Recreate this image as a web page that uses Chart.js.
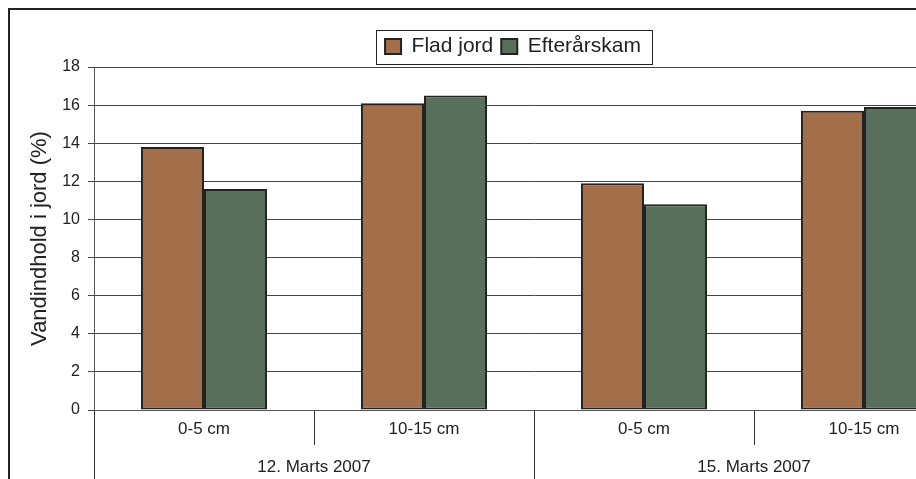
<!DOCTYPE html>
<html>
<head>
<meta charset="utf-8">
<script src="https://cdn.jsdelivr.net/npm/chart.js@4/dist/chart.umd.min.js"></script>
<style>
	html, body { margin: 0; padding: 0; background: #fff; width: 916px; height: 479px; overflow: hidden; }
	.frame { position: absolute; left: 8px; top: 8px; width: 1006px; height: 520px; border: 2px solid #222; background: #fff; }
	#chart { display: block; }
</style>
</head>
<body>
<div class="frame">
	<canvas id="chart" width="1006" height="520"></canvas>
</div>
<script>
// data
var categories = ['0-5 cm', '10-15 cm', '0-5 cm', '10-15 cm'];
var dates = ['12. Marts 2007', '15. Marts 2007'];
var fladJord = [13.8, 16.1, 11.9, 15.7];
var efterarskam = [11.6, 16.5, 10.8, 15.9];
var yMin = 0, yMax = 18, yStep = 2;

Chart.defaults.font.family = '"Liberation Sans", Arial, sans-serif';
Chart.defaults.color = '#222';

// box round the legend, like the old spreadsheet look
var legendFrame = {
	id: 'legendFrame',
	afterDraw: function(chart) {
		var boxes = chart.legend && chart.legend.legendHitBoxes;
		if (!boxes || !boxes.length) return;
		var l = Math.min.apply(null, boxes.map(function(b) { return b.left; }));
		var r = Math.max.apply(null, boxes.map(function(b) { return b.left + b.width; }));
		var t = Math.min.apply(null, boxes.map(function(b) { return b.top; }));
		var bt = Math.max.apply(null, boxes.map(function(b) { return b.top + b.height; }));
		var ctx = chart.ctx;
		ctx.save();
		ctx.strokeStyle = '#222';
		ctx.lineWidth = 1;
		ctx.strokeRect(Math.round(l - 9) + 0.5, Math.round(t - 6) + 0.5, Math.round(r - l + 20), Math.round(bt - t + 13));
		ctx.restore();
	}
};

var ctx = document.getElementById('chart');
var chart = new Chart(ctx, {
	type: 'bar',
	data: {
		labels: categories,
		datasets: [{
			label: 'Flad jord',
			data: fladJord,
			backgroundColor: '#a36e4a',
			borderColor: '#222',
			borderWidth: 2,
			borderSkipped: false
		}, {
			label: 'Efterårskam',
			data: efterarskam,
			backgroundColor: '#58705b',
			borderColor: '#222',
			borderWidth: 2,
			borderSkipped: false
		}]
	},
	options: {
		responsive: false,
		animation: false,
		categoryPercentage: 0.573,
		barPercentage: 1.0,
		layout: { padding: { top: 18, left: 0, right: 0, bottom: 49 } },
		plugins: {
			legend: {
				display: true,
				position: 'top',
				labels: {
					boxWidth: 16,
					boxHeight: 15,
					padding: 8,
					font: { size: 21 },
					color: '#222'
				}
			},
			tooltip: { enabled: false }
		},
		scales: {
			y: {
				min: yMin,
				max: yMax,
				ticks: { stepSize: yStep, font: { size: 16 }, padding: 8, color: '#222' },
				grid: { color: '#444', lineWidth: 1, tickLength: 6 },
				border: { color: '#555', width: 1 },
				title: { display: true, text: 'Vandindhold i jord (%)', font: { size: 22 }, color: '#222', padding: { top: 17, bottom: 0 } },
				afterFit: function(s) { s.width = 84; }
			},
			yr: {
				position: 'right',
				display: true,
				grid: { display: false },
				ticks: { display: false },
				border: { display: false },
				afterFit: function(s) { s.width = 42; }
			},
			x: {
				offset: true,
				grid: { offset: true, drawOnChartArea: false, tickLength: 35, color: '#333' },
				border: { color: '#555', width: 1 },
				ticks: { font: { size: 17 }, padding: -26, color: '#222' },
				afterFit: function(s) { s.height = 31; }
			},
			x2: {
				type: 'category',
				labels: dates,
				position: 'bottom',
				offset: true,
				grid: { offset: true, drawOnChartArea: false, tickLength: 80, color: '#333' },
				border: { display: false },
				ticks: { font: { size: 17 }, padding: -64, color: '#222' },
				afterFit: function(s) { s.height = 40; }
			}
		}
	},
	plugins: [legendFrame]
});
</script>
</body>
</html>
